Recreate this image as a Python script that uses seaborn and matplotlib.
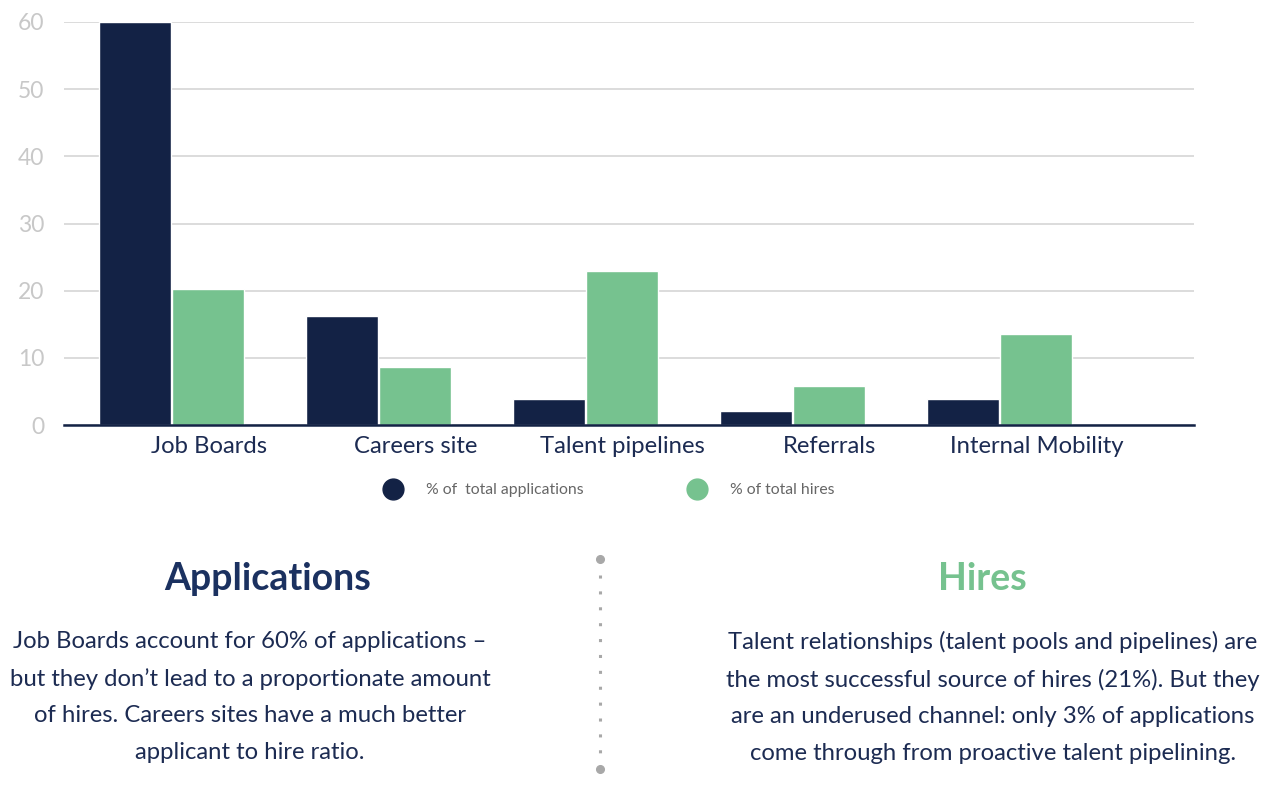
import pandas as pd
import seaborn as sns
import matplotlib.pyplot as plt
from matplotlib.lines import Line2D

# values
sources = ["Job Boards", "Careers site", "Talent pipelines", "Referrals", "Internal Mobility"]
applications = [60.0, 16.2, 3.9, 2.1, 3.9]
hires = [20.3, 8.6, 23.0, 5.8, 13.5]
series_names = ["% of  total applications", "% of total hires"]
y_ticks = [0, 10, 20, 30, 40, 50, 60]

apps_title = "Applications"
apps_text = ("Job Boards account for 60% of applications \u2013\n"
             "but they don\u2019t lead to a proportionate amount\n"
             "of hires. Careers sites have a much better\n"
             "applicant to hire ratio.")
hires_title = "Hires"
hires_text = ("Talent relationships (talent pools and pipelines) are\n"
              "the most successful source of hires (21%). But they\n"
              "are an underused channel: only 3% of applications\n"
              "come through from proactive talent pipelining.")

NAVY = "#132245"
GREEN = "#76c28f"
TEXT = "#1c2b52"

df = pd.DataFrame({
    "source": sources * 2,
    "share": applications + hires,
    "series": [series_names[0]] * len(sources) + [series_names[1]] * len(sources),
})

sns.set_theme(style="white")
plt.rcParams["font.family"] = ["Lato", "DejaVu Sans"]

fig = plt.figure(figsize=(12.68, 7.94), dpi=100)
ax = fig.add_axes([64 / 1268, 1 - 425 / 794, (1194 - 64) / 1268, (425 - 22) / 794])

sns.barplot(data=df, x="source", y="share", hue="series", order=sources,
            hue_order=series_names, palette=[NAVY, GREEN], width=0.71, gap=0.02,
            saturation=1, legend=False, ax=ax)

ax.set_xlim(-0.52, 4.94)
ax.set_ylim(0, 60)
ax.set_yticks(y_ticks)
ax.set_yticklabels([str(t) for t in y_ticks], color="#c8c8c8", fontsize=16.5)
ax.yaxis.grid(True, color="#dcdcdc", linewidth=1.4)
ax.set_axisbelow(True)
ax.tick_params(axis="y", length=0, pad=14)

# category labels sit under the second bar of each pair
ax.set_xticks([i + 0.18 for i in range(len(sources))])
ax.set_xticklabels(sources, fontsize=17.2, color=TEXT)
ax.tick_params(axis="x", length=0, pad=8)
ax.set_xlabel("")
ax.set_ylabel("")

for side in ["top", "right", "left"]:
    ax.spines[side].set_visible(False)
ax.spines["bottom"].set_color(NAVY)
ax.spines["bottom"].set_linewidth(1.8)
ax.spines["bottom"].set_zorder(5)

handles = [Line2D([], [], marker="o", linestyle="", markersize=15,
                  markerfacecolor=c, markeredgecolor=c) for c in (NAVY, GREEN)]
fig.legend(handles, series_names, loc="center", bbox_to_anchor=(606 / 1268, 1 - 490 / 794),
           ncol=2, frameon=False, fontsize=11.3, labelcolor="#666666",
           columnspacing=6.2, handletextpad=1.1)

# text blocks below the chart
fig.text(268 / 1268, 1 - 579 / 794, apps_title, ha="center", va="center",
         fontsize=27, fontweight="bold", color="#1b3160")
fig.text(250 / 1268, 1 - 697 / 794, apps_text, ha="center", va="center",
         multialignment="center", fontsize=17.2, color=TEXT, linespacing=1.9)
fig.text(982 / 1268, 1 - 579 / 794, hires_title, ha="center", va="center",
         fontsize=27, fontweight="bold", color=GREEN)
fig.text(993 / 1268, 1 - 697 / 794, hires_text, ha="center", va="center",
         multialignment="center", fontsize=17.2, color=TEXT, linespacing=1.9)

# dotted divider
sep_x = 600 / 1268
fig.add_artist(Line2D([sep_x, sep_x], [1 - 575 / 794, 1 - 756 / 794], transform=fig.transFigure,
                      linestyle=(0, (1, 4.2)), linewidth=2.2, color="#a8a8a8"))
fig.add_artist(Line2D([sep_x, sep_x], [1 - 559 / 794, 1 - 769 / 794], transform=fig.transFigure,
                      linestyle="", marker="o", markersize=5.5, color="#a8a8a8"))

fig.savefig("out.png", dpi=100)
